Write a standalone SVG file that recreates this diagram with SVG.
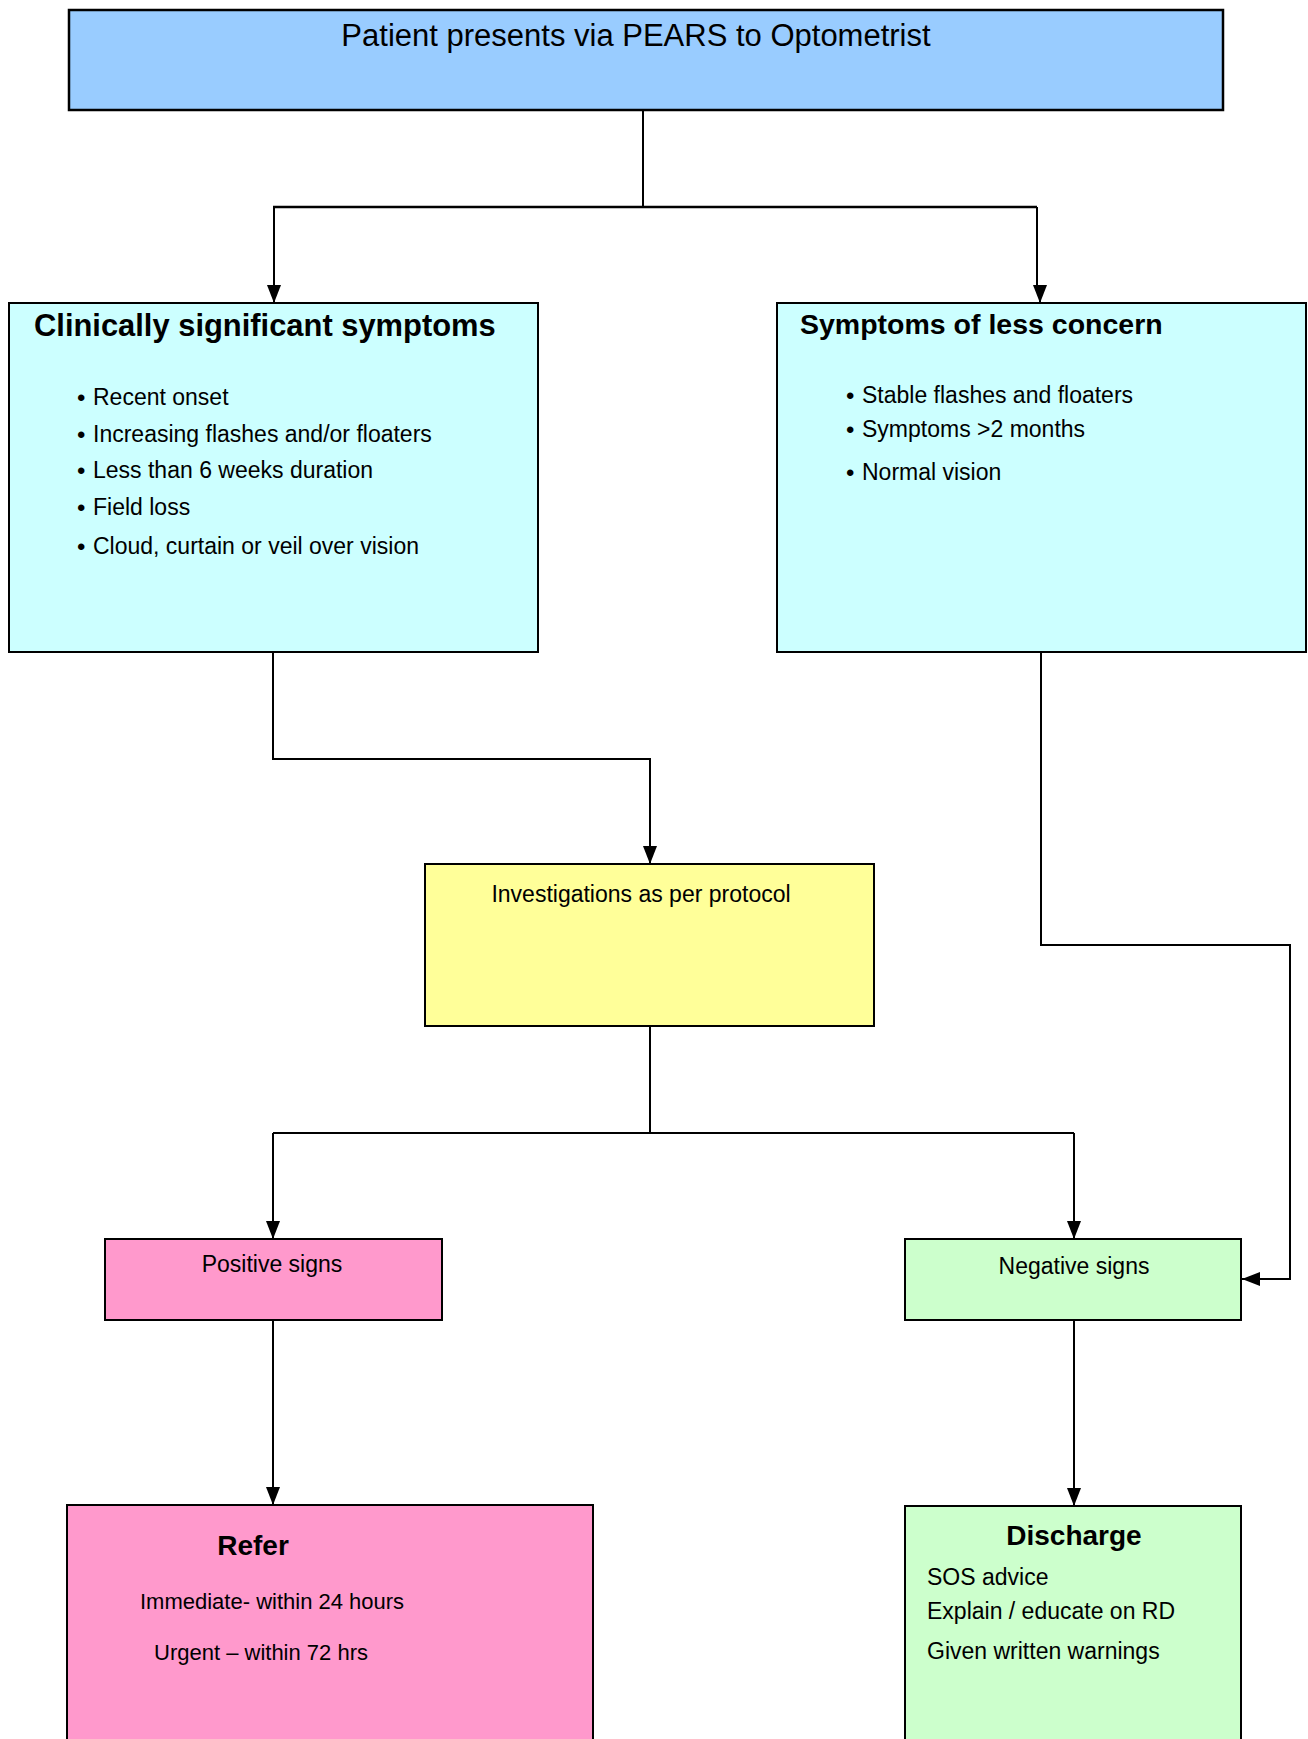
<svg xmlns="http://www.w3.org/2000/svg" width="1308" height="1739" viewBox="0 0 1308 1739">
<style>
  text { font-family: "Liberation Sans", Arial, sans-serif; fill: #000; }
  .box { stroke: #000; stroke-width: 2; }
  .title { font-weight: bold; }
  .body { font-size: 23px; }
  .bul { font-size: 24px; }
  .conn { fill: none; stroke: #000; stroke-width: 2; }
</style>
<defs>
  <marker id="arr" markerUnits="userSpaceOnUse" markerWidth="18" markerHeight="14" refX="18" refY="7" viewBox="0 0 18 14" orient="auto">
    <path d="M0,0 L18,7 L0,14 Z" fill="#000"/>
  </marker>
</defs>
<rect width="1308" height="1739" fill="#fff"/>

<g id="connectors">
  <path class="conn" d="M643,110 V207"/>
  <path class="conn" d="M273,207 H1037" style="stroke-width:2.5"/>
  <path class="conn" d="M274,207 V303" marker-end="url(#arr)"/>
  <path class="conn" d="M1037,207 V290 M1040,290 V303" marker-end="url(#arr)"/>
  <path class="conn" d="M273,652 V759 H650 V864" marker-end="url(#arr)"/>
  <path class="conn" d="M1041,652 V945 H1290 V1279 H1242" marker-end="url(#arr)"/>
  <path class="conn" d="M650,1026 V1133"/>
  <path class="conn" d="M273,1133 H1074"/>
  <path class="conn" d="M273,1133 V1239" marker-end="url(#arr)"/>
  <path class="conn" d="M1074,1133 V1239" marker-end="url(#arr)"/>
  <path class="conn" d="M273,1320 V1505" marker-end="url(#arr)"/>
  <path class="conn" d="M1074,1320 V1506" marker-end="url(#arr)"/>
</g>

<g id="node-start">
  <rect x="69" y="10" width="1154" height="100" fill="#99CCFF" stroke="#000" stroke-width="2.5"/>
  <text x="636" y="46" font-size="31" text-anchor="middle">Patient presents via PEARS to Optometrist</text>
</g>

<g id="node-clinical">
  <rect class="box" x="9" y="303" width="529" height="349" fill="#CCFFFF"/>
  <text class="title" x="34" y="336" font-size="30.9">Clinically significant symptoms</text>
  <text class="bul" x="77" y="406">•</text><text class="body" x="93" y="405">Recent  onset</text>
  <text class="bul" x="77" y="443">•</text><text class="body" x="93" y="442">Increasing flashes and/or floaters</text>
  <text class="bul" x="77" y="479">•</text><text class="body" x="93" y="478">Less than 6 weeks duration</text>
  <text class="bul" x="77" y="516">•</text><text class="body" x="93" y="515">Field loss</text>
  <text class="bul" x="77" y="555">•</text><text class="body" x="93" y="554">Cloud, curtain or veil over vision</text>
</g>

<g id="node-less">
  <rect class="box" x="777" y="303" width="529" height="349" fill="#CCFFFF"/>
  <text class="title" x="800" y="334" font-size="28.5">Symptoms of less concern</text>
  <text class="bul" x="846" y="404">•</text><text class="body" x="862" y="403">Stable flashes and floaters</text>
  <text class="bul" x="846" y="438">•</text><text class="body" x="862" y="437">Symptoms &gt;2 months</text>
  <text class="bul" x="846" y="481">•</text><text class="body" x="862" y="480">Normal  vision</text>
</g>

<g id="node-investigations">
  <rect class="box" x="425" y="864" width="449" height="162" fill="#FFFF99"/>
  <text class="body" x="641" y="902" text-anchor="middle">Investigations as per protocol</text>
</g>

<g id="node-positive">
  <rect class="box" x="105" y="1239" width="337" height="81" fill="#FF99CC"/>
  <text class="body" x="272" y="1272" text-anchor="middle">Positive signs</text>
</g>

<g id="node-negative">
  <rect class="box" x="905" y="1239" width="336" height="81" fill="#CCFFCC"/>
  <text class="body" x="1074" y="1274" text-anchor="middle">Negative signs</text>
</g>

<g id="node-refer">
  <rect class="box" x="67" y="1505" width="526" height="250" fill="#FF99CC"/>
  <text x="253" y="1555" font-size="28" font-weight="bold" text-anchor="middle">Refer</text>
  <text x="140" y="1609" font-size="22">Immediate- within 24 hours</text>
  <text x="154" y="1660" font-size="22">Urgent – within 72  hrs</text>
</g>

<g id="node-discharge">
  <rect class="box" x="905" y="1506" width="336" height="250" fill="#CCFFCC"/>
  <text x="1074" y="1545" font-size="28" font-weight="bold" text-anchor="middle">Discharge</text>
  <text class="body" x="927" y="1585">SOS advice</text>
  <text class="body" x="927" y="1619">Explain /  educate on RD</text>
  <text class="body" x="927" y="1659">Given written warnings</text>
</g>
</svg>
